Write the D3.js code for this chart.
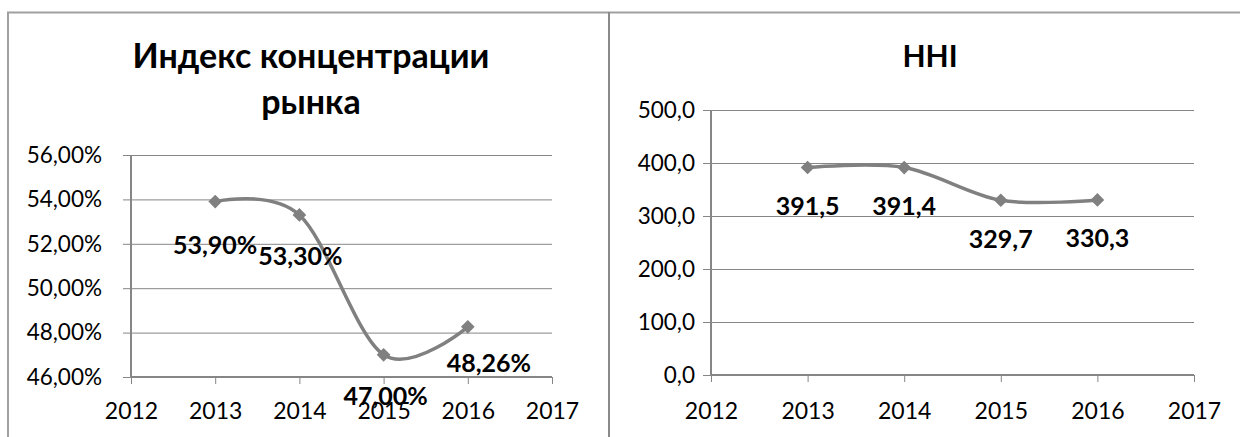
<!DOCTYPE html>
<html>
<head>
<meta charset="utf-8">
<script src="https://cdn.jsdelivr.net/npm/d3@7"></script>
<style>
  html, body { margin: 0; padding: 0; background: #fff; }
  svg { display: block; font-family: Lato, "Open Sans", sans-serif; }
</style>
</head>
<body>
<svg id="chart" width="1240" height="437"></svg>
<script>
  /* data */
  var years = [2013, 2014, 2015, 2016]
  var crValues = [53.90, 53.30, 47.00, 48.26]
  var crLabels = ["53,90%", "53,30%", "47,00%", "48,26%"]
  var crTicks = [46, 48, 50, 52, 54, 56]
  var hhiValues = [391.5, 391.4, 329.7, 330.3]
  var hhiLabels = ["391,5", "391,4", "329,7", "330,3"]
  var hhiTicks = [0, 100, 200, 300, 400, 500]
  var xTicks = [2012, 2013, 2014, 2015, 2016, 2017]

  var svg = d3.select("#chart")
  var gray = "#868686"

  // frame borders
  svg.append("line").attr("x1", 7).attr("x2", 1240).attr("y1", 12.5).attr("y2", 12.5)
      .attr("stroke", "#a0a0a0").attr("stroke-width", 2)
  svg.append("line").attr("x1", 8).attr("x2", 8).attr("y1", 12).attr("y2", 437)
      .attr("stroke", "#a0a0a0").attr("stroke-width", 2)
  svg.append("line").attr("x1", 609).attr("x2", 609).attr("y1", 12).attr("y2", 437)
      .attr("stroke", "#8a8a8a").attr("stroke-width", 2)

  var drawChart = function (cfg) {
    var x = d3.scaleLinear().domain([2012, 2017]).range([cfg.left, cfg.right])
    var y = d3.scaleLinear().domain(cfg.domain).range([cfg.bottom, cfg.top])
    var g = svg.append("g")

    // title
    cfg.title.forEach(function (t, i) {
      g.append("text").attr("x", cfg.titleX).attr("y", cfg.titleY + i * 46)
          .attr("text-anchor", "middle").attr("font-size", cfg.titleSize)
          .attr("font-weight", "bold").attr("fill", "#000").text(t)
    })

    // gridlines + y axis
    var yAxis = d3.axisLeft(y).tickValues(cfg.ticks).tickSize(-(cfg.right - cfg.left))
        .tickPadding(cfg.yPad).tickFormat(cfg.fmt)
    var ya = g.append("g").attr("transform", "translate(" + cfg.left + ",0)").call(yAxis)
    ya.select(".domain").remove()
    ya.selectAll(".tick line").attr("stroke", gray).attr("stroke-width", 1)
        .attr("x1", -8)
    ya.selectAll(".tick text").attr("font-size", 22.5).attr("fill", "#000")
        .attr("font-family", "Lato, sans-serif")

    // x axis
    var xAxis = d3.axisBottom(x).tickValues(xTicks).tickSize(7).tickPadding(cfg.xPad)
        .tickFormat(d3.format("d"))
    var xa = g.append("g").attr("transform", "translate(0," + cfg.bottom + ")").call(xAxis)
    xa.select(".domain").attr("stroke", gray).attr("stroke-width", 2).attr("d",
        "M" + cfg.left + ",0H" + cfg.right)
    xa.selectAll(".tick line").attr("stroke", gray)
    xa.selectAll(".tick text").attr("font-size", 23).attr("fill", "#000")
        .attr("font-family", "Lato, sans-serif")

    // y axis line
    g.append("line").attr("x1", cfg.left).attr("x2", cfg.left)
        .attr("y1", cfg.top).attr("y2", cfg.bottom + 1)
        .attr("stroke", gray).attr("stroke-width", 2)

    // smoothed line
    var line = d3.line()
        .x(function (d, i) { return x(years[i]) })
        .y(function (d) { return y(d) })
        .curve(d3.curveCardinal.tension(0))
    g.append("path").datum(cfg.values).attr("d", line)
        .attr("fill", "none").attr("stroke", "#808080").attr("stroke-width", 3.5)

    // markers
    g.selectAll("path.mark").data(cfg.values).enter().append("path")
        .attr("class", "mark")
        .attr("d", d3.symbol().type(d3.symbolDiamond2).size(120))
        .attr("transform", function (d, i) {
          return "translate(" + x(years[i]) + "," + y(d) + ")"
        })
        .attr("fill", "#808080")

    // data labels
    g.selectAll("text.lbl").data(cfg.values).enter().append("text")
        .attr("class", "lbl")
        .attr("x", function (d, i) { return x(years[i]) + cfg.lblDx[i] })
        .attr("y", function (d, i) { return y(d) + cfg.lblDy[i] })
        .attr("text-anchor", "middle").attr("dominant-baseline", "central")
        .attr("font-size", 25).attr("font-weight", "bold").attr("fill", "#000")
        .text(function (d, i) { return cfg.labels[i] })
  }

  drawChart({
    left: 131, right: 552, top: 155, bottom: 377, yPad: 29, xPad: 19,
    domain: [46, 56], ticks: crTicks, values: crValues, labels: crLabels,
    fmt: function (d) { return d3.format(".2f")(d).replace(".", ",") + "%" },
    title: ["Индекс концентрации", "рынка"], titleX: 311, titleY: 68, titleSize: 34,
    lblDx: [0, 1, 2, 21], lblDy: [42, 40, 40, 35]
  })

  drawChart({
    left: 711, right: 1194, top: 110, bottom: 375, yPad: 16, xPad: 21,
    domain: [0, 500], ticks: hhiTicks, values: hhiValues, labels: hhiLabels,
    fmt: function (d) { return d3.format(".1f")(d).replace(".", ",") },
    title: ["HHI"], titleX: 930, titleY: 67, titleSize: 30,
    lblDx: [0, 0, 0, 0], lblDy: [37, 37, 38, 37]
  })
</script>
</body>
</html>
